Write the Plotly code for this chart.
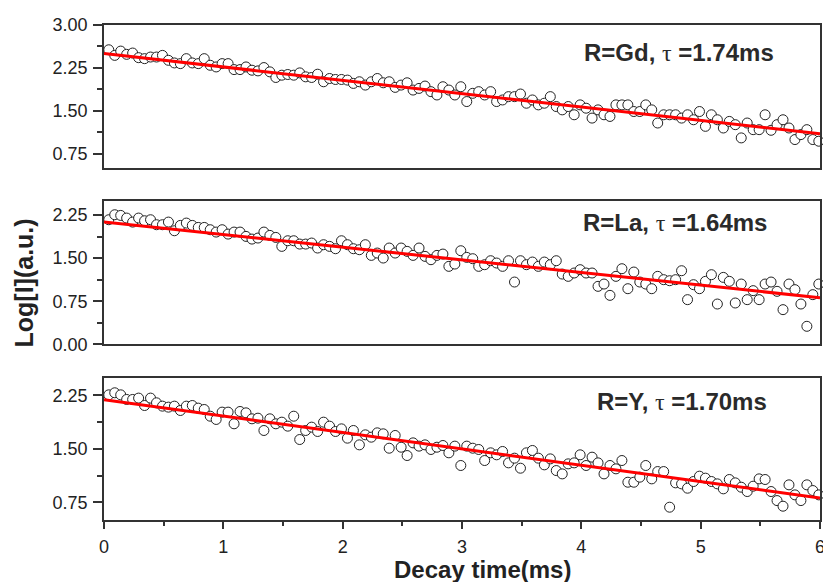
import plotly.graph_objects as go

# ---------------- data ----------------
time_ms = [round(0.04 + 0.05 * i, 2) for i in range(120)]  # sampling grid of the decay curves

log_gd = [2.567, 2.469, 2.544, 2.487, 2.510, 2.429, 2.412, 2.440, 2.440, 2.469,
          2.383, 2.337, 2.325, 2.412, 2.337, 2.325, 2.412, 2.296, 2.267, 2.325,
          2.325, 2.221, 2.221, 2.267, 2.210, 2.198, 2.256, 2.181, 2.083, 2.123,
          2.135, 2.123, 2.163, 2.094, 2.083, 2.140, 2.008, 2.065, 2.048, 2.048,
          2.037, 1.979, 2.008, 1.950, 2.008, 2.065, 1.990, 2.008, 1.910, 1.950,
          1.990, 1.863, 1.892, 1.933, 1.835, 1.777, 1.921, 1.863, 1.777, 1.921,
          1.662, 1.806, 1.835, 1.777, 1.835, 1.662, 1.690, 1.748, 1.748, 1.794,
          1.633, 1.690, 1.604, 1.633, 1.748, 1.575, 1.517, 1.575, 1.431, 1.604,
          1.546, 1.373, 1.517, 1.431, 1.402, 1.604, 1.604, 1.604, 1.488, 1.488,
          1.604, 1.517, 1.287, 1.431, 1.431, 1.431, 1.373, 1.431, 1.344, 1.488,
          1.229, 1.431, 1.344, 1.200, 1.315, 1.258, 1.027, 1.287, 1.171, 1.171,
          1.431, 1.160, 1.258, 1.344, 1.200, 0.998, 1.085, 1.171, 0.998, 0.969]

log_la = [2.169, 2.256, 2.244, 2.198, 2.128, 2.198, 2.151, 2.169, 2.082, 2.082,
          2.128, 1.977, 2.070, 2.111, 2.070, 2.035, 2.035, 1.995, 1.954, 1.995,
          1.919, 1.954, 1.954, 1.879, 1.832, 1.850, 1.954, 1.896, 1.861, 1.705,
          1.803, 1.803, 1.745, 1.745, 1.763, 1.676, 1.734, 1.705, 1.664, 1.803,
          1.734, 1.664, 1.647, 1.734, 1.548, 1.589, 1.502, 1.676, 1.589, 1.676,
          1.618, 1.548, 1.676, 1.531, 1.473, 1.548, 1.571, 1.357, 1.397, 1.629,
          1.513, 1.490, 1.357, 1.386, 1.455, 1.415, 1.357, 1.455, 1.084, 1.455,
          1.386, 1.432, 1.357, 1.432, 1.386, 1.455, 1.223, 1.183, 1.241, 1.299,
          1.241, 1.241, 1.009, 1.049, 0.852, 1.183, 1.316, 0.968, 1.258, 1.084,
          1.049, 0.968, 1.183, 1.125, 1.107, 1.125, 1.281, 0.777, 1.038, 0.968,
          1.096, 1.212, 0.701, 1.165, 1.096, 0.719, 1.049, 0.777, 0.934, 0.777,
          1.049, 1.084, 0.922, 0.603, 1.049, 0.951, 0.701, 0.313, 0.864, 1.049]

log_y = [2.259, 2.288, 2.259, 2.194, 2.194, 2.213, 2.109, 2.213, 2.147, 2.100,
         2.086, 2.100, 2.039, 2.100, 2.109, 2.072, 2.053, 1.959, 1.913, 2.016,
         2.016, 1.852, 2.025, 2.006, 1.922, 1.931, 1.758, 1.922, 1.852, 1.875,
         1.819, 1.959, 1.631, 1.758, 1.805, 1.744, 1.875, 1.819, 1.744, 1.781,
         1.650, 1.758, 1.556, 1.697, 1.664, 1.725, 1.711, 1.509, 1.688, 1.523,
         1.406, 1.584, 1.538, 1.556, 1.491, 1.523, 1.547, 1.444, 1.538, 1.266,
         1.538, 1.509, 1.491, 1.336, 1.444, 1.416, 1.463, 1.303, 1.369, 1.228,
         1.444, 1.477, 1.369, 1.275, 1.359, 1.195, 1.148, 1.289, 1.303, 1.416,
         1.266, 1.383, 1.303, 1.148, 1.266, 1.219, 1.336, 1.031, 1.031, 1.102,
         1.266, 1.078, 1.181, 1.181, 0.680, 1.022, 1.008, 0.947, 1.041, 1.116,
         1.088, 1.041, 1.008, 0.938, 1.069, 1.022, 0.961, 0.900, 0.975, 1.078,
         1.069, 0.900, 0.773, 0.694, 0.994, 0.853, 0.773, 0.994, 0.914, 0.853]

fit_x = [0, 6]
fit_gd = [2.50, 1.10]
fit_la = [2.13, 0.81]
fit_y = [2.19, 0.81]

labels = ["R=Gd, ", "R=La, ", "R=Y, "]
taus = ["1.74ms", "1.64ms", "1.70ms"]

y_ranges = [[0.5, 3.0], [0.0, 2.5], [0.5, 2.5]]
y_ticks = [[0.75, 1.50, 2.25, 3.00], [0.00, 0.75, 1.50, 2.25], [0.75, 1.50, 2.25]]
label_pos_y = [2.52, 2.12, 2.16]
label_pos_x = [5.63, 5.57, 5.57]

x_ticks = [0, 1, 2, 3, 4, 5, 6]

# ---------------- figure ----------------
FONT = "Liberation Sans, Arial, sans-serif"
series = [log_gd, log_la, log_y]
fits = [fit_gd, fit_la, fit_y]
domains = [[0.711, 1.0], [0.355, 0.645], [0.0, 0.2875]]

fig = go.Figure()
for i in range(3):
    xa = "x" if i == 0 else f"x{i+1}"
    ya = "y" if i == 0 else f"y{i+1}"
    fig.add_trace(go.Scatter(
        x=time_ms, y=series[i], mode="markers", xaxis=xa, yaxis=ya,
        marker=dict(symbol="circle", size=10, color="white",
                    line=dict(color="#222222", width=1)),
        showlegend=False, hoverinfo="skip", cliponaxis=False))
    fig.add_trace(go.Scatter(
        x=fit_x, y=fits[i], mode="lines", xaxis=xa, yaxis=ya,
        line=dict(color="#ff0000", width=3), showlegend=False, hoverinfo="skip"))

# the page body has an 8 px margin, so the figure is 8 px smaller than the window
layout = dict(
    width=823, height=574,
    margin=dict(l=96, r=6, t=17, b=62),
    paper_bgcolor="white", plot_bgcolor="white",
    font=dict(family=FONT, size=18, color="#222222"),
)
for i in range(3):
    xk = "xaxis" if i == 0 else f"xaxis{i+1}"
    yk = "yaxis" if i == 0 else f"yaxis{i+1}"
    ya = "y" if i == 0 else f"y{i+1}"
    xa = "x" if i == 0 else f"x{i+1}"
    last = (i == 2)
    layout[xk] = dict(
        domain=[0, 1], anchor=ya, range=[0, 6],
        showline=True, mirror=True, linecolor="#333333", linewidth=1.5,
        showgrid=False, zeroline=False,
        ticks="outside" if last else "", ticklen=7, tickwidth=1.5, tickcolor="#333333",
        tickvals=x_ticks if last else [], ticktext=[str(v) for v in x_ticks] if last else [],
        showticklabels=last, ticklabelstandoff=3 if last else 0,
        minor=dict(ticks="outside", ticklen=4, tickwidth=1.5, tickcolor="#333333",
                   dtick=0.5, tick0=0) if last else dict(ticks=""),
    )
    layout[yk] = dict(
        domain=domains[i], anchor=xa, range=y_ranges[i],
        showline=True, mirror=True, linecolor="#333333", linewidth=1.5,
        showgrid=False, zeroline=False,
        ticks="outside", ticklen=9, tickwidth=1.5, tickcolor="#333333",
        tickvals=y_ticks[i], ticktext=[f"{v:.2f}" for v in y_ticks[i]],
        ticklabelstandoff=2,
        minor=dict(ticks="outside", ticklen=5, tickwidth=1.5, tickcolor="#333333",
                   dtick=0.375, tick0=0.0),
    )
fig.update_layout(**layout)

annotations = []
for i in range(3):
    xa = "x" if i == 0 else f"x{i+1}"
    ya = "y" if i == 0 else f"y{i+1}"
    annotations.append(dict(
        x=label_pos_x[i], y=label_pos_y[i], xref=xa, yref=ya,
        xanchor="right", yanchor="middle", showarrow=False,
        text=(f"<b>{labels[i]}</b><span style='font-family:Liberation Serif, Times New Roman, serif'>τ</span>"
              f"<b> ={taus[i]}</b>"),
        font=dict(family=FONT, size=24, color="#2a2a2a")))
annotations.append(dict(
    x=0.528, y=-0.1, xref="paper", yref="paper", xanchor="center", yanchor="middle",
    showarrow=False, text="<b>Decay time(ms)</b>",
    font=dict(family=FONT, size=24, color="#222222")))
annotations.append(dict(
    x=-0.1123, y=0.479, xref="paper", yref="paper", xanchor="center", yanchor="middle",
    showarrow=False, textangle=-90, text="<b>Log[I](a.u.)</b>",
    font=dict(family=FONT, size=25, color="#222222")))
fig.update_layout(annotations=annotations)

fig.write_html("out.html")
